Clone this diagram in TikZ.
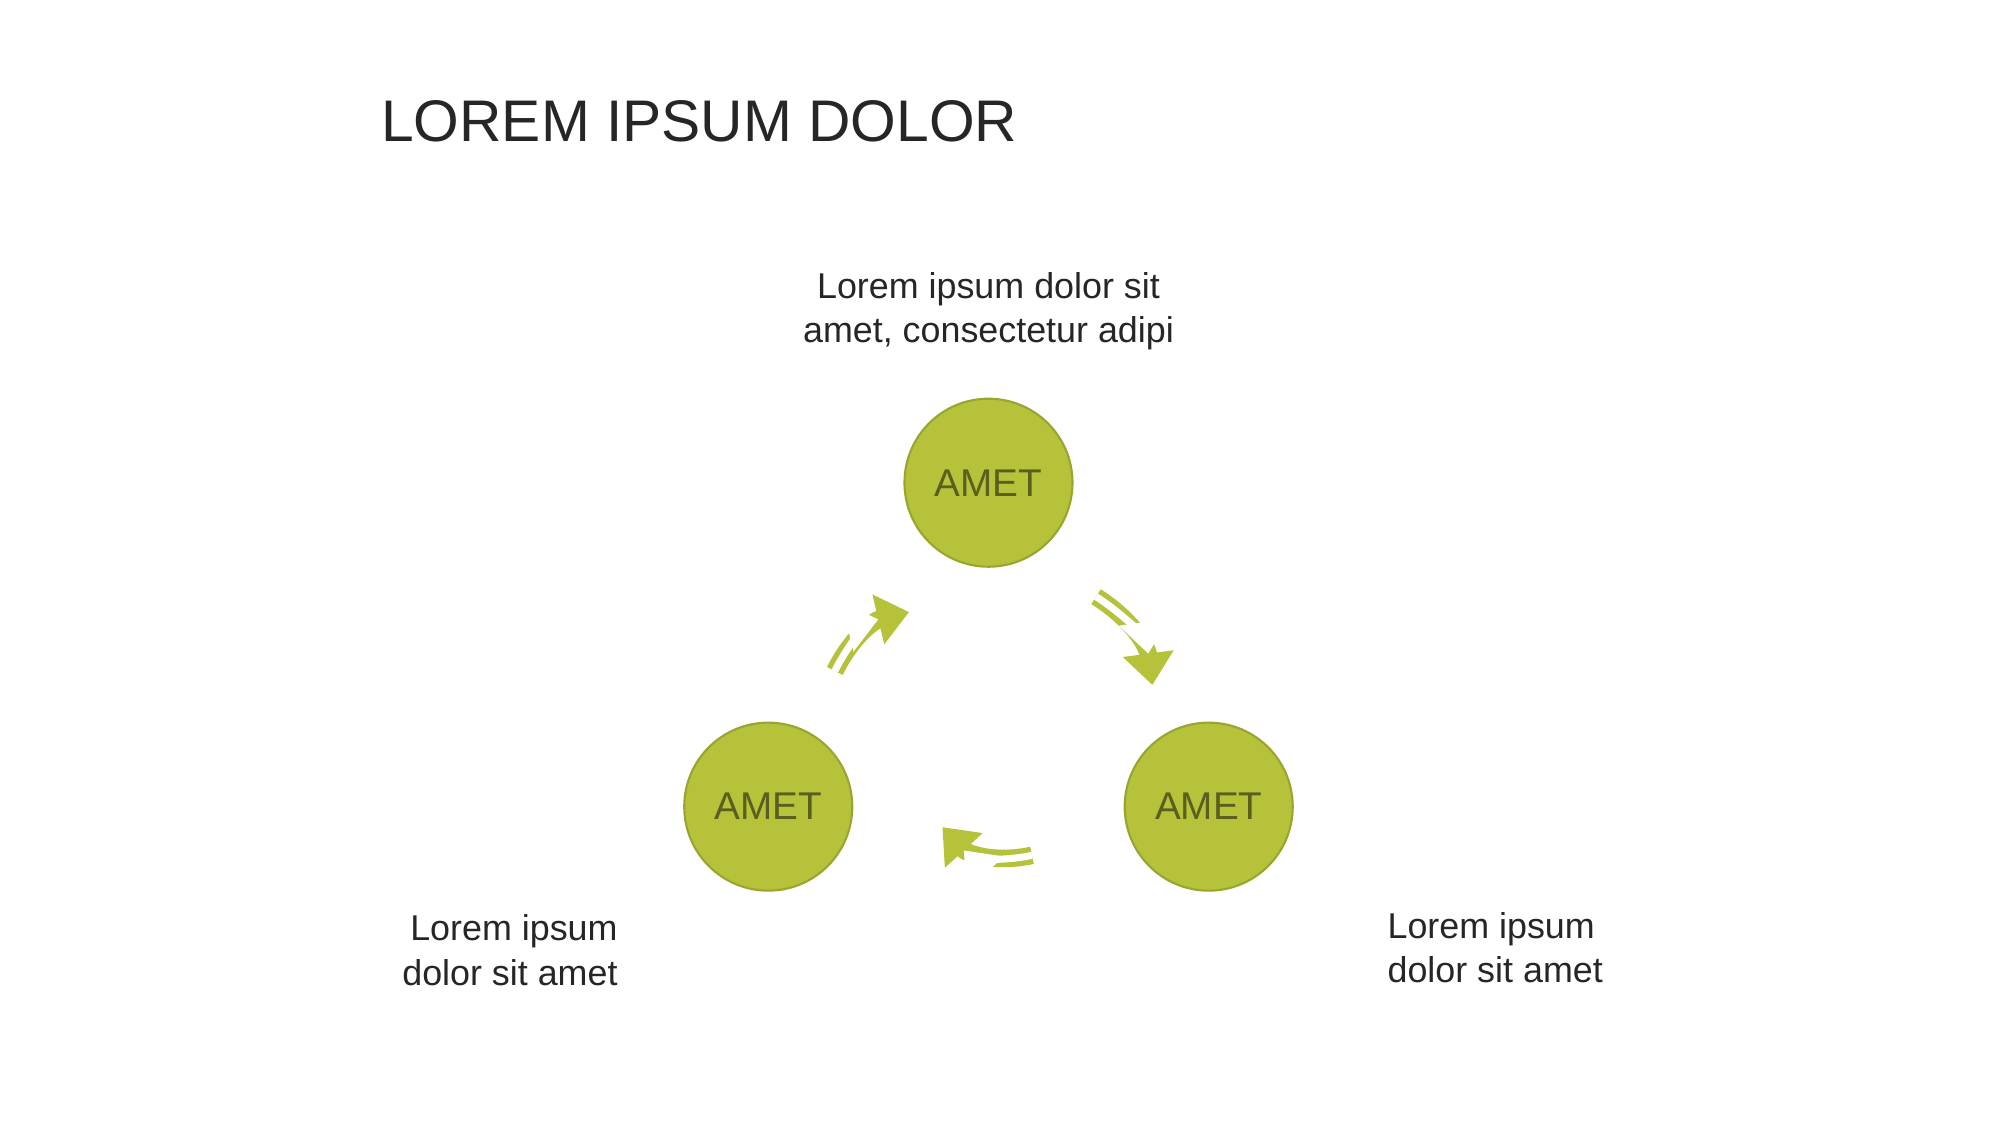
\documentclass[tikz,border=0pt]{standalone}
\usepackage{fontspec}
\setmainfont{Liberation Sans}
\usetikzlibrary{arrows.meta}
\definecolor{amet}{HTML}{B5C23A}
\definecolor{ametdark}{HTML}{5A5E1E}
\definecolor{txt}{HTML}{262626}
\tikzset{
  ball/.style={circle, fill=amet, draw=amet!85!black, line width=0.6pt,
    minimum size=1.68cm, inner sep=0pt, text=ametdark, font=\fontsize{11}{13}\selectfont},
  note/.style={text=txt, font=\fontsize{10.2}{12.6}\selectfont},
  turn/.style={draw=amet, line width=5pt, -{Triangle[length=9pt,width=14pt]},
    postaction={draw=white, line width=2pt, shorten >=9pt}}
}
\begin{document}
\begin{tikzpicture}[x=0.0128cm, y=-0.0128cm]
	\useasboundingbox (0,0) rectangle (1562,879);
	\node [anchor=west, text=txt, font=\fontsize{16.7}{20}\selectfont] (title) at (288,95) {LOREM IPSUM DOLOR};
	%
	\node [ball] (top) at (772,377) {AMET};
	\node [ball] (left) at (600,630) {AMET};
	\node [ball] (right) at (944,630) {AMET};
	%
	\node [note, align=center] (ttop) at (772,243) {Lorem ipsum dolor sit\\amet, consectetur adipi};
	\node [note, align=right, anchor=east] (tleft) at (492,742) {Lorem ipsum\\dolor sit amet};
	\node [note, align=left, anchor=west] (tright) at (1074,740) {Lorem ipsum\\dolor sit amet};
	%
	\coordinate (a1) at (652,524);
	\coordinate (a2) at (710,478);
	\coordinate (b1) at (856,466);
	\coordinate (b2) at (900,535);
	\coordinate (c1) at (806,668);
	\coordinate (c2) at (736,646);
	\draw [turn] (a1) to[bend left=25] (a2);
	\draw [turn] (b1) to[bend left=25] (b2);
	\draw [turn] (c1) to[bend left=30] (c2);
\end{tikzpicture}
\end{document}
